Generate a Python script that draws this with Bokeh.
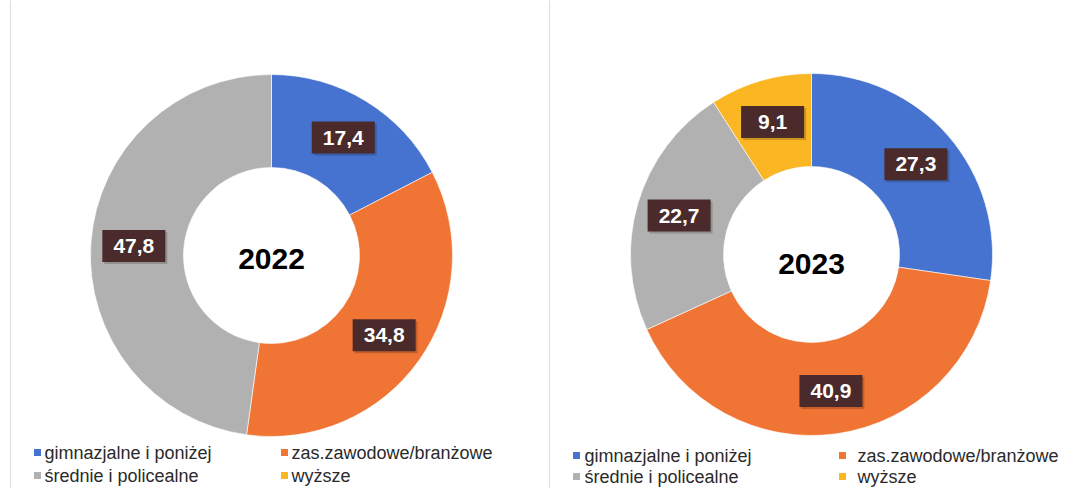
import math
from bokeh.plotting import figure
from bokeh.models import Range1d, ColumnDataSource
from bokeh.core.properties import value
from bokeh.embed import file_html
from bokeh.resources import INLINE

years = ["2022", "2023"]
categories = ["gimnazjalne i poniżej", "zas.zawodowe/branżowe", "średnie i policealne", "wyższe"]
values_2022 = [17.4, 34.8, 47.8, 0.0]
values_2023 = [27.3, 40.9, 22.7, 9.1]
colors = ["#4573cf", "#f07535", "#b1b1b1", "#fbb624"]

W, H = 1075, 488
p = figure(width=W, height=H, output_backend="svg", toolbar_location=None,
           x_range=Range1d(0, W), y_range=Range1d(0, H), min_border=0)
p.axis.visible = False
p.grid.visible = False
p.outline_line_color = None
p.background_fill_color = "white"

def px(x):
    return x

def py(y):
    return H - y

# faint panel borders
p.segment(x0=[px(10), px(549)], y0=[py(0), py(0)], x1=[px(10), px(549)], y1=[py(488), py(488)],
          line_color="#dcdcdc", line_width=1)

panels = [
    dict(year=years[0], vals=values_2022, cx=271, cy=255, yt=258),
    dict(year=years[1], vals=values_2023, cx=811, cy=254, yt=263),
]
R_OUT, R_IN, R_LAB = 181, 88, 138

for pan in panels:
    vals = pan["vals"]
    total = sum(vals)
    cx, cy = px(pan["cx"]), py(pan["cy"])
    starts, ends, cols, lx, ly, lt = [], [], [], [], [], []
    cum = 0.0
    for v, c in zip(vals, colors):
        if v <= 0:
            continue
        a0 = math.pi / 2 - 2 * math.pi * cum / total
        a1 = math.pi / 2 - 2 * math.pi * (cum + v) / total
        starts.append(a0); ends.append(a1); cols.append(c)
        mid = (a0 + a1) / 2
        lx.append(cx + R_LAB * math.cos(mid))
        ly.append(cy + R_LAB * math.sin(mid))
        lt.append(f"{v:.1f}".replace(".", ","))
        cum += v
    src = ColumnDataSource(dict(x=[cx] * len(starts), y=[cy] * len(starts),
                                s=starts, e=ends, c=cols))
    p.annular_wedge(x="x", y="y", inner_radius=R_IN, outer_radius=R_OUT,
                    start_angle="s", end_angle="e", direction="clock",
                    fill_color="c", line_color="white", line_width=0.6, source=src)
    # label boxes
    p.rect(x=[x + 2 for x in lx], y=[y - 2 for y in ly], width=63, height=32,
           fill_color="#000000", fill_alpha=0.18, line_color=None)
    p.rect(x=lx, y=ly, width=63, height=32, fill_color="#4a2a2a", line_color=None)
    p.text(x=lx, y=ly, text=lt, text_color="white", text_font=value("Liberation Sans"),
           text_font_style="bold", text_font_size="21px", text_align="center",
           text_baseline="middle")
    p.text(x=[cx], y=[py(pan["yt"])], text=[pan["year"]], text_color="black",
           text_font=value("Liberation Sans"), text_font_style="bold",
           text_font_size="30px", text_align="center", text_baseline="middle")

# legends
legend_layout = [
    dict(cols_x=[37, 284], text_x=[44, 291], rows_y=[452, 475]),
    dict(cols_x=[576, 842], text_x=[584, 857], rows_y=[455, 476]),
]
for lg in legend_layout:
    sx, sy, tx, ty, tt, sc = [], [], [], [], [], []
    for i, (cat, col) in enumerate(zip(categories, colors)):
        r, c = divmod(i, 2)
        sx.append(px(lg["cols_x"][c])); sy.append(py(lg["rows_y"][r]))
        tx.append(px(lg["text_x"][c])); ty.append(py(lg["rows_y"][r]))
        tt.append(cat); sc.append(col)
    p.rect(x=sx, y=sy, width=7, height=7, fill_color=sc, line_color=None)
    p.text(x=tx, y=ty, text=tt, text_color="#2a2a2a", text_font=value("Liberation Sans"),
           text_font_size="18px", text_align="left", text_baseline="middle")

open("out.html", "w").write(file_html(p, INLINE))
